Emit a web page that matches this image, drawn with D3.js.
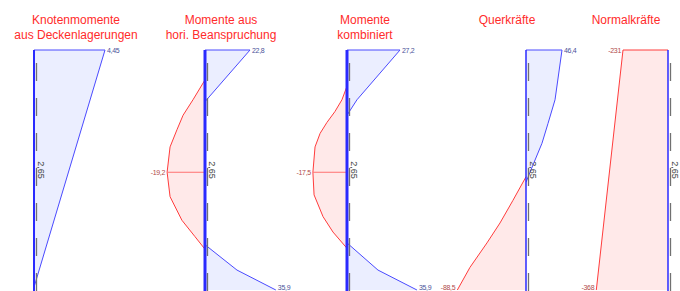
<!DOCTYPE html>
<html>
<head>
<meta charset="utf-8">
<script src="https://cdn.jsdelivr.net/npm/d3@7"></script>
<style>
  body { margin: 0; background: #fff; }
  svg { display: block; font-family: "Liberation Sans", Arial, sans-serif; }
</style>
</head>
<body>
<svg id="chart" width="680" height="291"></svg>
<script>
// member length (m) and panel titles
var memberLength = 2.65;
var titles = [
	["Knotenmomente", "aus Deckenlagerungen"],
	["Momente aus", "hori. Beanspruchung"],
	["Momente", "kombiniert"],
	["Querkräfte"],
	["Normalkräfte"]
];

// diagram values: [position along member (m), value]
var knotenmomente = [[0, 4.45], [2.62, 0]];

var horiTop = [[0, 22.8], [0.57, 0]];
var horiField = [[0.33, 0], [0.55, -6.1], [0.72, -11.1], [0.88, -14.2], [1.07, -17.7], [1.35, -19.2],
	[1.62, -17.7], [1.88, -11.7], [2.06, -5.1], [2.20, 0]];
var horiBottom = [[2.15, 0], [2.43, 16.2], [2.65, 35.9]];

var kombTop = [[0, 27.2], [0.55, 5.1], [0.72, 0]];
var kombField = [[0.40, 0], [0.55, -2.6], [0.68, -6.2], [0.80, -10.3], [0.92, -13.8], [1.07, -16.4],
	[1.35, -17.5], [1.60, -16.9], [1.84, -12.3], [2.01, -7.2], [2.19, 0]];
var kombBottom = [[2.13, 0], [2.43, 15.9], [2.65, 35.9]];

var querPos = [[0, 46.4], [0.55, 37.4], [0.81, 28.4], [1.03, 20.6], [1.27, 9.0], [1.46, 0]];
var querNeg = [[1.40, 0], [1.66, -16.8], [1.91, -33.5], [2.13, -50.3], [2.40, -72.2], [2.65, -88.5]];

var normal = [[0, -231], [2.65, -368]];

// labelled values per panel: [position, value]
var valueLabels = [
	[[0, 4.45]],
	[[0, 22.8], [1.35, -19.2], [2.65, 35.9]],
	[[0, 27.2], [1.35, -17.5], [2.65, 35.9]],
	[[0, 46.4], [2.65, -88.5]],
	[[0, -231], [2.65, -368]]
];

// layout: axis position, reference value and its width in px
var panels = [
	{ axis: 34, ref: 4.45, px: 71, titleX: 76, axisW: 2, segs: [knotenmomente] },
	{ axis: 205, ref: 22.8, px: 45, titleX: 221, axisW: 3, segs: [horiTop, horiField, horiBottom] },
	{ axis: 347, ref: 27.2, px: 53, titleX: 365, axisW: 3, segs: [kombTop, kombField, kombBottom] },
	{ axis: 526, ref: 46.4, px: 36, titleX: 507, axisW: 1.5, segs: [querPos, querNeg] },
	{ axis: 668, ref: -231, px: -45, titleX: 626, axisW: 1.5, segs: [normal] }
];

var svg = d3.select("#chart");
var y = d3.scaleLinear().domain([0, memberLength]).range([50, 290]);

var blue = "#4a4aff", red = "#ff3c3c";
var fmt = function (v) { return String(v).replace(".", ","); };

panels.forEach(function (p, i) {
	var x = d3.scaleLinear().domain([0, p.ref]).range([p.axis, p.axis + p.px]);
	var g = svg.append("g");

	// title
	titles[i].forEach(function (t, k) {
		g.append("text")
			.attr("x", p.titleX).attr("y", 24 + k * 14.5)
			.attr("text-anchor", "middle")
			.attr("font-size", 12)
			.attr("fill", "#ff2b2b")
			.text(t);
	});

	// filled diagram parts
	p.segs.forEach(function (seg) {
		var neg = d3.sum(seg, function (d) { return d[1]; }) < 0;
		var first = seg[0], last = seg[seg.length - 1];
		var poly = [[first[0], 0]].concat(seg, [[last[0], 0]]);

		g.append("path")
			.attr("d", d3.line().x(function (d) { return x(d[1]); }).y(function (d) { return y(d[0]); })(poly))
			.attr("fill", neg ? "#ffe9e9" : "#ebeeff")
			.attr("stroke", "none");

		var outline = first[1] !== 0 ? [[first[0], 0]].concat(seg) : seg;
		g.append("path")
			.attr("d", d3.line().x(function (d) { return x(d[1]); }).y(function (d) { return y(d[0]); })(outline))
			.attr("fill", "none")
			.attr("stroke", neg ? red : blue)
			.attr("stroke-width", 1);
	});

	// value labels
	valueLabels[i].forEach(function (d) {
		var neg = d[1] < 0;
		if (d[0] > 0 && d[0] < memberLength) {
			g.append("line")
				.attr("x1", x(0)).attr("x2", x(d[1]))
				.attr("y1", y(d[0])).attr("y2", y(d[0]))
				.attr("stroke", neg ? "#ff7070" : blue)
				.attr("stroke-width", 1);
		}
		g.append("text")
			.attr("x", x(d[1]) + (neg ? -2 : 2))
			.attr("y", Math.min(y(d[0]) + 2.5, 290))
			.attr("text-anchor", neg ? "end" : "start")
			.attr("font-size", 7)
			.attr("letter-spacing", -0.3)
			.attr("fill", neg ? "#b04a4a" : "#4a5299")
			.text(fmt(d[1]));
	});

	// member axis
	g.append("line")
		.attr("x1", p.axis).attr("x2", p.axis)
		.attr("y1", y(0)).attr("y2", y(memberLength) + 2)
		.attr("stroke", "#2a2aff")
		.attr("stroke-width", p.axisW);

	// dashed reference line
	g.append("line")
		.attr("x1", p.axis + 2.5).attr("x2", p.axis + 2.5)
		.attr("y1", 63).attr("y2", y(memberLength) + 2)
		.attr("stroke", "#707070")
		.attr("stroke-width", 1.3)
		.attr("stroke-dasharray", "18,17");

	// member length
	g.append("text")
		.attr("transform", "translate(" + (p.axis + 4) + "," + y(memberLength / 2) + ") rotate(90)")
		.attr("text-anchor", "middle")
		.attr("font-size", 9)
		.attr("fill", "#444")
		.text(fmt(memberLength));
});
</script>
</body>
</html>
